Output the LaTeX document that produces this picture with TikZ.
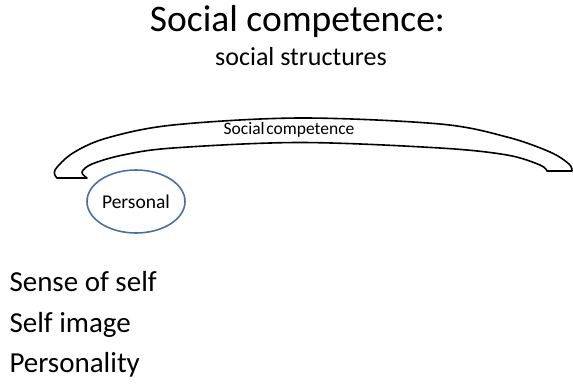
\documentclass[tikz,border=0pt]{standalone}
\usepackage{fontspec}
\setmainfont{Carlito}
\usetikzlibrary{shapes.geometric}
\definecolor{ovalblue}{HTML}{4A6FA5}
\tikzset{
  titletext/.style={anchor=base, font=\fontsize{37.5}{44}\selectfont},
  subtext/.style={anchor=base, font=\fontsize{26}{30}\selectfont},
  listitem/.style={anchor=base west, inner sep=0pt, font=\fontsize{29}{34}\selectfont},
  band/.style={draw=black, line width=1.6pt, line join=round},
  oval/.style={ellipse, draw=ovalblue, line width=1.6pt, minimum width=98pt,
    minimum height=63pt, inner sep=0pt, font=\fontsize{19.5}{22}\selectfont},
  bandlabel/.style={inner sep=0pt, font=\fontsize{17.5}{20}\selectfont}
}
\begin{document}
\begin{tikzpicture}[x=1pt,y=-1pt]
  \useasboundingbox (0,0) rectangle (573,384);
  % heading
  \node[titletext] (title) at (297.5,31.7) {Social competence:};
  \node[subtext] (subtitle) at (301,65) {social structures};
  % curved band of social competence
  \draw[band]
    plot[smooth, tension=0.55] coordinates {(57,178) (55,170) (73,153) (107,138) (173,125)
      (300,118) (440,124) (507,137) (550,152) (569,164) (572,171)}
    -- (547,171)
    -- plot[smooth, tension=0.55] coordinates {(547,171) (540,165) (507,155) (440,148)
      (300,142.5) (173,148) (123,155) (92,164) (82,172) (87,178)}
    -- cycle;
  \node[bandlabel] (band label) at (289,130) {Social\hspace{0.1em}competence};
  % personal oval
  \node[oval] (personal) at (136,201.5) {Personal};
  % list of personal aspects
  \node[listitem] (sense) at (9.3,291) {Sense of self};
  \node[listitem] (image) at (9.3,332) {Self image};
  \node[listitem] (persona) at (9.3,372.5) {Personality};
\end{tikzpicture}
\end{document}
